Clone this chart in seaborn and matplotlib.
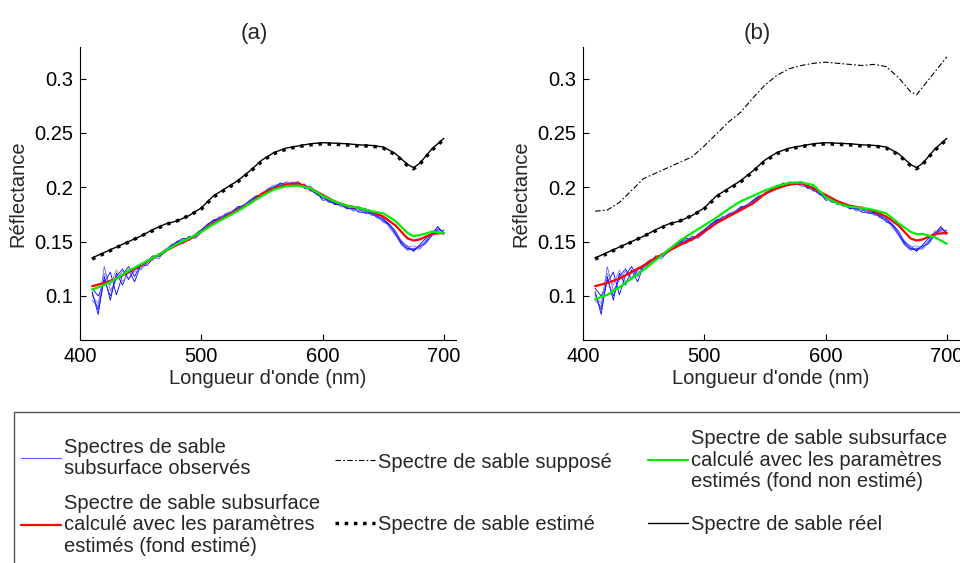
import numpy as np
import pandas as pd
import matplotlib
matplotlib.use('Agg')
import matplotlib.pyplot as plt
from matplotlib.patches import Rectangle
from matplotlib.ticker import FormatStrFormatter
import seaborn as sns

# %%
# wavelength grid for the smooth curves (nm)
wl = [410, 420, 430, 440, 450, 460, 470, 480, 490, 500, 510, 520, 530, 540,
      550, 560, 570, 580, 590, 600, 610, 620, 630, 640, 650, 660, 670, 675,
      680, 690, 700]

sable_reel = [0.135, 0.140, 0.145, 0.150, 0.155, 0.161, 0.166, 0.169, 0.174,
              0.181, 0.192, 0.199, 0.206, 0.215, 0.225, 0.232, 0.236, 0.238,
              0.240, 0.241, 0.2405, 0.240, 0.239, 0.2385, 0.237, 0.231, 0.221,
              0.218, 0.222, 0.235, 0.245]
sable_estime = [0.134, 0.139, 0.1445, 0.1495, 0.155, 0.160, 0.1655, 0.169,
                0.174, 0.180, 0.191, 0.198, 0.205, 0.214, 0.224, 0.231, 0.235,
                0.2375, 0.239, 0.240, 0.2395, 0.239, 0.238, 0.238, 0.236,
                0.230, 0.220, 0.217, 0.221, 0.234, 0.244]
sable_suppose = [0.178, 0.179, 0.186, 0.197, 0.208, 0.213, 0.218, 0.223,
                 0.228, 0.238, 0.249, 0.260, 0.269, 0.282, 0.294, 0.303,
                 0.309, 0.312, 0.314, 0.315, 0.314, 0.313, 0.312, 0.313,
                 0.311, 0.301, 0.288, 0.285, 0.292, 0.306, 0.320]
calc_fond_estime = [0.109, 0.112, 0.116, 0.122, 0.128, 0.135, 0.141, 0.147,
                    0.152, 0.159, 0.167, 0.173, 0.179, 0.185, 0.194, 0.199,
                    0.2025, 0.2035, 0.199, 0.193, 0.187, 0.183, 0.181, 0.178,
                    0.173, 0.165, 0.153, 0.151, 0.152, 0.157, 0.158]
calc_fond_non_estime_a = [0.106, 0.110, 0.116, 0.123, 0.129, 0.135, 0.141,
                          0.148, 0.153, 0.159, 0.166, 0.172, 0.178, 0.185,
                          0.192, 0.198, 0.201, 0.2015, 0.199, 0.192, 0.187,
                          0.183, 0.181, 0.178, 0.176, 0.169, 0.158, 0.155,
                          0.156, 0.159, 0.158]
calc_fond_non_estime_b = [0.097, 0.101, 0.108, 0.116, 0.124, 0.133, 0.142,
                          0.151, 0.158, 0.165, 0.172, 0.180, 0.187, 0.192,
                          0.197, 0.201, 0.204, 0.2045, 0.202, 0.191, 0.185,
                          0.182, 0.181, 0.179, 0.176, 0.167, 0.159, 0.157,
                          0.157, 0.154, 0.148]

# observed spectra, 5 nm step
wl_obs = list(range(410, 701, 5))
obs_1 = [0.104, 0.083, 0.118, 0.096, 0.121, 0.110, 0.124, 0.113, 0.128, 0.133,
         0.134, 0.137, 0.141, 0.145, 0.150, 0.151, 0.153, 0.156, 0.160, 0.166,
         0.169, 0.172, 0.175, 0.177, 0.180, 0.184, 0.187, 0.191, 0.194, 0.196,
         0.200, 0.203, 0.204, 0.203, 0.202, 0.203, 0.197, 0.194, 0.190, 0.188,
         0.185, 0.184, 0.181, 0.180, 0.182, 0.178, 0.176, 0.174, 0.171, 0.166,
         0.160, 0.150, 0.144, 0.142, 0.145, 0.150, 0.158, 0.163, 0.158]
obs_2 = [0.096, 0.090, 0.127, 0.105, 0.115, 0.123, 0.116, 0.126, 0.124, 0.130,
         0.136, 0.134, 0.142, 0.147, 0.149, 0.148, 0.154, 0.153, 0.158, 0.164,
         0.168, 0.173, 0.174, 0.178, 0.181, 0.182, 0.186, 0.189, 0.195, 0.198,
         0.201, 0.201, 0.205, 0.204, 0.201, 0.200, 0.201, 0.195, 0.191, 0.186,
         0.186, 0.182, 0.182, 0.179, 0.178, 0.181, 0.175, 0.173, 0.172, 0.163,
         0.156, 0.147, 0.142, 0.144, 0.143, 0.149, 0.155, 0.160, 0.156]
obs_3 = [0.107, 0.100, 0.112, 0.122, 0.101, 0.119, 0.127, 0.118, 0.129, 0.128,
         0.134, 0.139, 0.140, 0.146, 0.150, 0.153, 0.152, 0.157, 0.161, 0.165,
         0.170, 0.171, 0.173, 0.177, 0.182, 0.183, 0.188, 0.192, 0.193, 0.197,
         0.199, 0.203, 0.202, 0.204, 0.205, 0.199, 0.198, 0.196, 0.188, 0.189,
         0.184, 0.185, 0.180, 0.181, 0.177, 0.177, 0.177, 0.172, 0.170, 0.165,
         0.158, 0.149, 0.146, 0.141, 0.147, 0.153, 0.157, 0.161, 0.160]
obs_4 = [0.100, 0.093, 0.121, 0.110, 0.124, 0.113, 0.121, 0.122, 0.125, 0.132,
         0.133, 0.138, 0.143, 0.145, 0.148, 0.152, 0.151, 0.155, 0.159, 0.163,
         0.167, 0.171, 0.176, 0.178, 0.179, 0.184, 0.186, 0.190, 0.194, 0.199,
         0.202, 0.202, 0.203, 0.205, 0.203, 0.201, 0.196, 0.197, 0.190, 0.187,
         0.188, 0.183, 0.183, 0.178, 0.179, 0.179, 0.174, 0.175, 0.169, 0.164,
         0.159, 0.151, 0.145, 0.146, 0.144, 0.151, 0.160, 0.157, 0.161]
obs_5 = [0.102, 0.087, 0.115, 0.100, 0.118, 0.125, 0.115, 0.124, 0.127, 0.131,
         0.137, 0.136, 0.140, 0.146, 0.149, 0.150, 0.155, 0.154, 0.160, 0.162,
         0.169, 0.170, 0.175, 0.176, 0.181, 0.183, 0.185, 0.191, 0.193, 0.198,
         0.200, 0.204, 0.202, 0.203, 0.204, 0.200, 0.199, 0.193, 0.192, 0.187,
         0.185, 0.184, 0.181, 0.180, 0.180, 0.176, 0.176, 0.174, 0.168, 0.166,
         0.157, 0.148, 0.143, 0.143, 0.146, 0.148, 0.156, 0.164, 0.157]

lbl_obs = 'Spectres de sable\nsubsurface observés'
lbl_red = ('Spectre de sable subsurface\ncalculé avec les paramètres\n'
           'estimés (fond estimé)')
lbl_sup = 'Spectre de sable supposé'
lbl_est = 'Spectre de sable estimé'
lbl_green = ('Spectre de sable subsurface\ncalculé avec les paramètres\n'
             'estimés (fond non estimé)')
lbl_reel = 'Spectre de sable réel'

# %%
df_obs = pd.DataFrame({
    'wl': wl_obs * 5,
    'refl': obs_1 + obs_2 + obs_3 + obs_4 + obs_5,
    'spectre': np.repeat(['s1', 's2', 's3', 's4', 's5'], len(wl_obs))})
df = pd.DataFrame({'wl': wl, 'reel': sable_reel, 'estime': sable_estime,
                   'suppose': sable_suppose, 'red': calc_fond_estime,
                   'green_a': calc_fond_non_estime_a,
                   'green_b': calc_fond_non_estime_b})

sns.set_theme(style="ticks")
plt.rcParams['font.family'] = ['Liberation Sans', 'DejaVu Sans']

fig = plt.figure(figsize=(9.6, 5.63), dpi=100)
ax1 = fig.add_axes([80 / 960, 1 - 340 / 563, 376 / 960, 293 / 563])
ax2 = fig.add_axes([583 / 960, 1 - 340 / 563, 376 / 960, 293 / 563])

blues = ['#0000ff', '#6060ff', '#0000ff', '#8080ff', '#2020ff']

for ax, green_col, title in [(ax1, 'green_a', '(a)'), (ax2, 'green_b', '(b)')]:
    if ax is ax2:
        sns.lineplot(data=df, x='wl', y='suppose', ax=ax, color='black',
                     lw=0.8, linestyle=(0, (5, 2, 1.5, 2)), label=lbl_sup,
                     legend=False)
    sns.lineplot(data=df, x='wl', y='reel', ax=ax, color='black', lw=1.0,
                 label=lbl_reel, legend=False)
    sns.lineplot(data=df, x='wl', y='estime', ax=ax, color='black', lw=2.5,
                 linestyle=':', label=lbl_est, legend=False)
    sns.lineplot(data=df_obs, x='wl', y='refl', hue='spectre', palette=blues,
                 ax=ax, lw=0.6, legend=False)
    sns.lineplot(data=df, x='wl', y='red', ax=ax, color='red', lw=1.6,
                 label=lbl_red, legend=False)
    sns.lineplot(data=df, x='wl', y=green_col, ax=ax, color='#00ee00',
                 lw=1.6, label=lbl_green, legend=False)

    ax.set_xlim(400, 710)
    ax.set_ylim(0.0595, 0.329)
    ax.set_xticks([400, 500, 600, 700])
    ax.set_yticks([0.1, 0.15, 0.2, 0.25, 0.3])
    ax.yaxis.set_major_formatter(FormatStrFormatter('%g'))
    ax.tick_params(direction='in', length=4, width=0.8, labelsize=14.5, pad=5,
                   colors='black')
    sns.despine(ax=ax)
    for s in ['left', 'bottom']:
        ax.spines[s].set_linewidth(0.8)
        ax.spines[s].set_color('black')
    ax.set_xlabel("Longueur d'onde (nm)", fontsize=14.5, labelpad=2)
    ax.set_ylabel('Réflectance', fontsize=14.5, labelpad=5)
    ax.set_title(title, fontsize=16, x=0.463, pad=6)

# %%
# legend: 2 rows x 3 columns, drawn as separate small legends
handles, labels = ax2.get_legend_handles_labels()
hmap = dict(zip(labels, handles))
blue_h = plt.Line2D([], [], color='#5a5aff', lw=0.8)
entries = [(blue_h, lbl_obs, 21, 458), (hmap[lbl_red], lbl_red, 21, 525),
           (hmap[lbl_sup], lbl_sup, 335, 462), (hmap[lbl_est], lbl_est, 335, 525),
           (hmap[lbl_green], lbl_green, 648, 460),
           (hmap[lbl_reel], lbl_reel, 648, 525)]
for h, lab, x, y in entries:
    leg = fig.legend(handles=[h], labels=[lab], loc='center left',
                     bbox_to_anchor=(x / 960, 1 - y / 563), frameon=False,
                     borderpad=0, borderaxespad=0, handlelength=2.0,
                     handletextpad=0.15, fontsize=14.5)
    for t in leg.get_texts():
        t.set_linespacing(1.17)

fig.add_artist(Rectangle((14 / 960, -0.1), 1.0, 0.1 + 1 - 411.7 / 563,
                         transform=fig.transFigure, fill=False,
                         ec='#555555', lw=1.0))

fig.savefig('out.png', dpi=100)
